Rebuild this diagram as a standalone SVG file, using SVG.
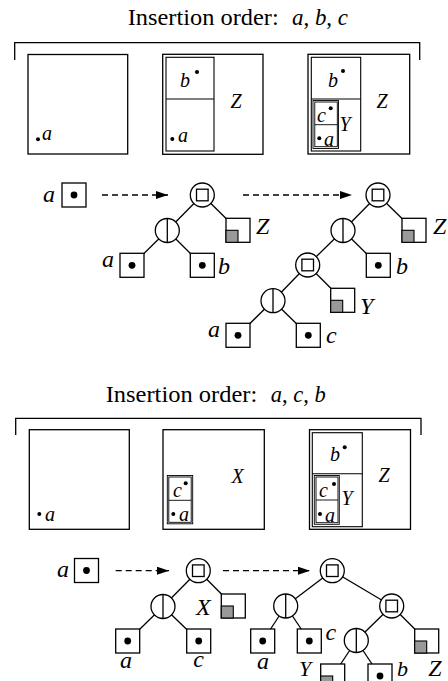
<svg xmlns="http://www.w3.org/2000/svg" width="448" height="681" viewBox="0 0 448 681">
<defs>
<style>
.ln{fill:none;stroke:#000;stroke-width:1.3}
.in{fill:none;stroke:#000;stroke-width:1.1}
.in2{fill:none;stroke:#000;stroke-width:0.9}
.ttl{font-family:"Liberation Serif",serif;font-size:24px;fill:#000}
.it{font-family:"Liberation Serif",serif;font-style:italic;fill:#000}
.pl{font-size:20px}
.tl{font-size:24px}
.tb{font-size:22px}
.edge{stroke:#000;stroke-width:1.3}
.dash{stroke:#000;stroke-width:1.3;stroke-dasharray:6 4;fill:none}
.dot{fill:#000}
</style>
<marker id="ah" markerWidth="12" markerHeight="8" refX="12" refY="4" orient="auto" markerUnits="userSpaceOnUse"><path d="M0,0 L12,4 L0,8 z" fill="#000"/></marker>
<g id="leaf"><rect x="-12" y="-12" width="24" height="24" fill="#fff" stroke="#000" stroke-width="1.3"/><circle r="3.4" fill="#000"/></g>
<g id="empty"><rect x="-12" y="-12" width="24" height="24" fill="#fff" stroke="#000" stroke-width="1.3"/><rect x="-12" y="0" width="12" height="12" fill="#999" stroke="#000" stroke-width="1.1"/></g>
<g id="sq"><circle r="12" fill="#fff" stroke="#000" stroke-width="1.3"/><rect x="-5.8" y="-5.8" width="11.6" height="11.6" fill="#fff" stroke="#000" stroke-width="1.3"/></g>
<g id="vs"><circle r="12" fill="#fff" stroke="#000" stroke-width="1.3"/><line x1="0" y1="-12" x2="0" y2="12" stroke="#000" stroke-width="1.3"/></g>
</defs>
<rect width="448" height="681" fill="#fff"/>

<!-- ===== Section 1: a, b, c ===== -->
<g id="title-abc">
<text class="ttl" x="127.7" y="25" textLength="151" lengthAdjust="spacingAndGlyphs">Insertion order:</text>
<text class="ttl" x="292" y="25" textLength="56" lengthAdjust="spacingAndGlyphs"><tspan font-style="italic">a</tspan>, <tspan font-style="italic">b</tspan>, <tspan font-style="italic">c</tspan></text>
</g>
<path id="bracket-abc" class="ln" d="M14.7,60 V42.7 H419.7 V60"/>

<g id="panel-abc-1">
<rect class="ln" x="28" y="54.5" width="99.7" height="99.5"/>
<circle class="dot" cx="38" cy="139.3" r="2"/>
<text class="it pl" x="42" y="140">a</text>
</g>
<g id="panel-abc-2">
<rect class="ln" x="162.7" y="54.3" width="100.3" height="100"/>
<rect class="in" x="166" y="57.3" width="48" height="93.7"/>
<line class="in" x1="166" y1="99" x2="214" y2="99"/>
<text class="it pl" x="180" y="87">b</text>
<circle class="dot" cx="197" cy="72" r="2"/>
<text class="it pl" x="230.5" y="108">Z</text>
<circle class="dot" cx="172.3" cy="139" r="2"/>
<text class="it pl" x="178" y="142">a</text>
</g>
<g id="panel-abc-3">
<rect class="ln" x="308" y="54.3" width="101.7" height="99.7"/>
<rect class="in" x="311.3" y="57.3" width="49.4" height="93.7"/>
<line class="in" x1="311.3" y1="99" x2="360.7" y2="99"/>
<rect class="in2" x="313" y="100.5" width="25.5" height="48"/>
<rect class="in2" x="314.8" y="102" width="22.5" height="44.7"/>
<line class="in2" x1="314.8" y1="124.7" x2="337.3" y2="124.7"/>
<text class="it pl" x="328" y="87">b</text>
<circle class="dot" cx="343" cy="71" r="2"/>
<text class="it pl" x="376.5" y="108">Z</text>
<text class="it pl" x="317" y="122">c</text>
<circle class="dot" cx="330.7" cy="108.3" r="2"/>
<text class="it pl" x="339.5" y="131">Y</text>
<circle class="dot" cx="319.3" cy="138.3" r="2"/>
<text class="it pl" x="324" y="145.7">a</text>
</g>

<g id="connectors-abc">
<line class="dash" x1="102" y1="195" x2="168" y2="195" marker-end="url(#ah)"/>
<line class="dash" x1="243" y1="195" x2="352" y2="195" marker-end="url(#ah)"/>
<line class="edge" x1="202.3" y1="195" x2="167.3" y2="230.5"/>
<line class="edge" x1="202.3" y1="195" x2="238" y2="230.3"/>
<line class="edge" x1="167.3" y1="230.5" x2="132" y2="265.3"/>
<line class="edge" x1="167.3" y1="230.5" x2="202.3" y2="265.3"/>
<line class="edge" x1="378" y1="195" x2="343" y2="230.5"/>
<line class="edge" x1="378" y1="195" x2="414" y2="230.3"/>
<line class="edge" x1="343" y1="230.5" x2="378.3" y2="265.3"/>
<line class="edge" x1="343" y1="230.5" x2="307.7" y2="265"/>
<line class="edge" x1="307.7" y1="265" x2="342.7" y2="300.3"/>
<line class="edge" x1="307.7" y1="265" x2="273" y2="300.7"/>
<line class="edge" x1="273" y1="300.7" x2="238" y2="335.3"/>
<line class="edge" x1="273" y1="300.7" x2="308.3" y2="335.3"/>
</g>

<g id="t0-a"><use href="#leaf" x="74" y="195"/><text class="it tl" x="43" y="201.5">a</text></g>
<g id="t1-root"><use href="#sq" x="202.3" y="195"/></g>
<g id="t1-split"><use href="#vs" x="167.3" y="230.5"/></g>
<g id="t1-Z"><use href="#empty" x="238" y="230.3"/><text class="it tl" x="256" y="233.5">Z</text></g>
<g id="t1-a"><use href="#leaf" x="132" y="265.3"/><text class="it tl" x="102" y="266.5">a</text></g>
<g id="t1-b"><use href="#leaf" x="202.3" y="265.3"/><text class="it tl" x="218" y="273.5">b</text></g>
<g id="t2-root"><use href="#sq" x="378" y="195"/></g>
<g id="t2-split"><use href="#vs" x="343" y="230.5"/></g>
<g id="t2-Z"><use href="#empty" x="414" y="230.3"/><text class="it tl" x="433" y="233.5">Z</text></g>
<g id="t2-b"><use href="#leaf" x="378.3" y="265.3"/><text class="it tl" x="396" y="273.5">b</text></g>
<g id="t2-comp"><use href="#sq" x="307.7" y="265"/></g>
<g id="t2-Y"><use href="#empty" x="342.7" y="300.3"/><text class="it tl" x="360" y="314">Y</text></g>
<g id="t2-split2"><use href="#vs" x="273" y="300.7"/></g>
<g id="t2-a"><use href="#leaf" x="238" y="335.3"/><text class="it tl" x="208" y="336.5">a</text></g>
<g id="t2-c"><use href="#leaf" x="308.3" y="335.3"/><text class="it tl" x="326" y="343">c</text></g>

<!-- ===== Section 2: a, c, b ===== -->
<g id="title-acb">
<text class="ttl" x="105.7" y="401.7" textLength="151.6" lengthAdjust="spacingAndGlyphs">Insertion order:</text>
<text class="ttl" x="270.7" y="401.7" textLength="55" lengthAdjust="spacingAndGlyphs"><tspan font-style="italic">a</tspan>, <tspan font-style="italic">c</tspan>, <tspan font-style="italic">b</tspan></text>
</g>
<path id="bracket-acb" class="ln" d="M15.7,435 V418.3 H421 V435"/>

<g id="panel-acb-1">
<rect class="ln" x="29.3" y="429.7" width="100" height="99.6"/>
<circle class="dot" cx="39.3" cy="514" r="2"/>
<text class="it pl" x="45" y="520.5">a</text>
</g>
<g id="panel-acb-2">
<rect class="ln" x="163" y="429.7" width="101.3" height="99.6"/>
<rect class="in2" x="167.3" y="475.5" width="25.4" height="48.3"/>
<rect class="in2" x="168.8" y="477" width="22.4" height="45.3"/>
<line class="in2" x1="168.8" y1="500.3" x2="191.2" y2="500.3"/>
<text class="it pl" x="231.5" y="483">X</text>
<text class="it pl" x="173" y="497">c</text>
<circle class="dot" cx="185.7" cy="483.3" r="2"/>
<circle class="dot" cx="173.3" cy="514" r="2"/>
<text class="it pl" x="179" y="521.3">a</text>
</g>
<g id="panel-acb-3">
<rect class="ln" x="309.5" y="429.7" width="101" height="99.6"/>
<rect class="in" x="312.3" y="432.7" width="50" height="94"/>
<line class="in" x1="312.3" y1="473.7" x2="362.3" y2="473.7"/>
<rect class="in2" x="314.3" y="475.5" width="25" height="48.8"/>
<rect class="in2" x="316" y="477" width="22" height="45.7"/>
<line class="in2" x1="316" y1="500" x2="338" y2="500"/>
<text class="it pl" x="330" y="461">b</text>
<circle class="dot" cx="344.7" cy="447.3" r="2"/>
<text class="it pl" x="378.5" y="482">Z</text>
<text class="it pl" x="319" y="497">c</text>
<circle class="dot" cx="334" cy="484" r="2"/>
<text class="it pl" x="341.5" y="505">Y</text>
<circle class="dot" cx="320" cy="514" r="2"/>
<text class="it pl" x="325" y="522">a</text>
</g>

<g id="connectors-acb">
<line class="dash" x1="115.7" y1="570.7" x2="169" y2="570.7" marker-end="url(#ah)"/>
<line class="dash" x1="223" y1="570.7" x2="310" y2="570.7" marker-end="url(#ah)"/>
<line class="edge" x1="198.3" y1="570.7" x2="163" y2="606.5"/>
<line class="edge" x1="198.3" y1="570.7" x2="233.3" y2="606"/>
<line class="edge" x1="163" y1="606.5" x2="127.7" y2="641"/>
<line class="edge" x1="163" y1="606.5" x2="198.7" y2="641"/>
<line class="edge" x1="332.3" y1="570.7" x2="285.7" y2="606"/>
<line class="edge" x1="332.3" y1="570.7" x2="391.7" y2="606"/>
<line class="edge" x1="285.7" y1="606" x2="262.7" y2="641"/>
<line class="edge" x1="285.7" y1="606" x2="309.3" y2="641"/>
<line class="edge" x1="391.7" y1="606" x2="356.3" y2="640.5"/>
<line class="edge" x1="391.7" y1="606" x2="426.7" y2="641"/>
<line class="edge" x1="356.3" y1="640.5" x2="332.7" y2="676"/>
<line class="edge" x1="356.3" y1="640.5" x2="380" y2="676"/>
</g>

<g id="b0-a"><use href="#leaf" x="86.5" y="570.5"/><text class="it tl" x="57" y="577">a</text></g>
<g id="b1-root"><use href="#sq" x="198.3" y="570.7"/></g>
<g id="b1-split"><use href="#vs" x="163" y="606.5"/></g>
<g id="b1-X"><use href="#empty" x="233.3" y="606"/><text class="it tl" x="196" y="615">X</text></g>
<g id="b1-a"><use href="#leaf" x="127.7" y="641"/><text class="it tl" x="126" y="668" text-anchor="middle">a</text></g>
<g id="b1-c"><use href="#leaf" x="198.7" y="641"/><text class="it tl" x="198.7" y="667" text-anchor="middle">c</text></g>
<g id="b2-root"><use href="#sq" x="332.3" y="570.7"/></g>
<g id="b2-split"><use href="#vs" x="285.7" y="606"/></g>
<g id="b2-a"><use href="#leaf" x="262.7" y="641"/><text class="it tl" x="263" y="668.5" text-anchor="middle">a</text></g>
<g id="b2-c"><use href="#leaf" x="309.3" y="641"/><text class="it tl" x="325.5" y="639.5">c</text></g>
<g id="b2-comp"><use href="#sq" x="391.7" y="606"/></g>
<g id="b2-Z"><use href="#empty" x="426.7" y="641"/><text class="it tl" x="435" y="675.5" text-anchor="middle">Z</text></g>
<g id="b2-split2"><use href="#vs" x="356.3" y="640.5"/></g>
<g id="b2-Y"><use href="#empty" x="332.7" y="676"/><text class="it tb" x="299" y="676">Y</text></g>
<g id="b2-b"><use href="#leaf" x="380" y="676"/><text class="it tb" x="397" y="676">b</text></g>
</svg>
